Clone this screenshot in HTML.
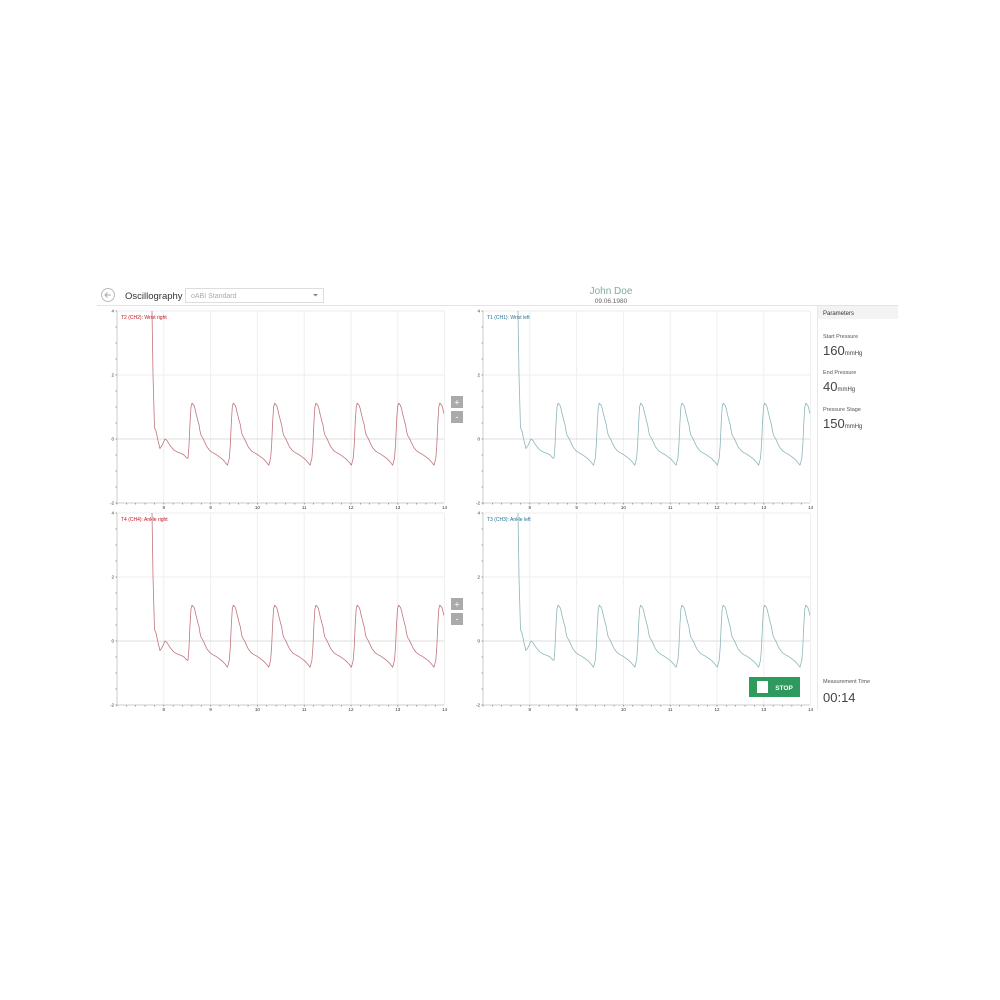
<!DOCTYPE html>
<html><head><meta charset="utf-8"><style>
body{margin:0;width:1000px;height:1000px;background:#fff;position:relative;overflow:hidden;font-family:"Liberation Sans",sans-serif}
.a{position:absolute;white-space:nowrap}
</style></head><body>
<svg class="a" style="left:0;top:0" width="1000" height="1000" id="s">
<circle cx="108" cy="295" r="6.5" fill="none" stroke="#bbb" stroke-width="1"/>
<path d="M111 295 H105 M107.5 292.5 L105 295 L107.5 297.5" fill="none" stroke="#aaa" stroke-width="1"/>
<text x="125" y="299" font-size="9.5" fill="#333">Oscillography</text>
<rect x="185.5" y="288.5" width="138" height="14" fill="#fff" stroke="#ddd"/>
<text x="191" y="298" font-size="7" fill="#aaa">oABI Standard</text>
<path d="M313 294 l2.5 2.5 l2.5 -2.5z" fill="#888"/>
<text x="611" y="294" font-size="10" fill="#7aaf96" text-anchor="middle">John Doe</text>
<text x="611" y="303" font-size="6.5" fill="#666" text-anchor="middle">09.06.1980</text>
<line x1="97" y1="305.5" x2="898" y2="305.5" stroke="#e4e4e4"/>
<line x1="817.5" y1="306" x2="817.5" y2="710" stroke="#e8e8e8"/>
<rect x="818" y="306" width="80" height="13" fill="#f3f3f3"/>
<text x="823" y="315" font-size="6" fill="#333">Parameters</text>
<text x="823" y="338" font-size="5.5" fill="#555">Start Pressure</text>
<text x="823" y="355" font-size="13" fill="#444">160<tspan font-size="6">mmHg</tspan></text>
<text x="823" y="374" font-size="5.5" fill="#555">End Pressure</text>
<text x="823" y="391" font-size="13" fill="#444">40<tspan font-size="6">mmHg</tspan></text>
<text x="823" y="411" font-size="5.5" fill="#555">Pressure Stage</text>
<text x="823" y="428" font-size="13" fill="#444">150<tspan font-size="6">mmHg</tspan></text>
<text x="823" y="683" font-size="5.5" fill="#555">Measurement Time</text>
<text x="823" y="702" font-size="13" fill="#444">00:14</text>
<rect x="451" y="396" width="12" height="12" fill="#aaa"/><text x="457" y="405.5" font-size="9" fill="#fff" text-anchor="middle">+</text>
<rect x="451" y="411" width="12" height="12" fill="#aaa"/><text x="457" y="420" font-size="9" fill="#fff" text-anchor="middle">-</text>
<rect x="451" y="598" width="12" height="12" fill="#aaa"/><text x="457" y="607.5" font-size="9" fill="#fff" text-anchor="middle">+</text>
<rect x="451" y="613" width="12" height="12" fill="#aaa"/><text x="457" y="622" font-size="9" fill="#fff" text-anchor="middle">-</text>
<g id="charts"></g>
<rect x="749" y="677" width="51" height="20" fill="#2e9a5e"/>
<rect x="757" y="681" width="11" height="12" fill="#fff"/>
<text x="784" y="690" font-size="6.5" fill="#fff" text-anchor="middle" font-weight="bold">STOP</text>
</svg>
<script>
var g=document.getElementById('charts'),h='';
function ch(ax,top,col,lab,lc){
 var px=46.8,yu=32,y0=top+128,bot=top+192,right=ax+327;
 for(var i=1;i<=7;i++){var x=ax+i*px;h+='<line x1="'+x+'" y1="'+top+'" x2="'+x+'" y2="'+bot+'" stroke="#eeeeee"/>';
  h+='<text x="'+x+'" y="'+(bot+6)+'" font-size="4.5" fill="#333" text-anchor="middle">'+(7+i)+'</text>';}
 for(var k=0;k<3;k++){var y=top+k*64;h+='<line x1="'+ax+'" y1="'+y+'" x2="'+right+'" y2="'+y+'" stroke="'+(k==2?'#ddd':'#eeeeee')+'"/>';}
 h+='<line x1="'+ax+'" y1="'+top+'" x2="'+ax+'" y2="'+bot+'" stroke="#ccc"/><line x1="'+ax+'" y1="'+bot+'" x2="'+right+'" y2="'+bot+'" stroke="#ccc"/>';
 for(var x=ax;x<=right;x+=px/5)h+='<line x1="'+x+'" y1="'+bot+'" x2="'+x+'" y2="'+(bot+1.5)+'" stroke="#666" stroke-width=".6"/>';
 for(var y=top;y<=bot;y+=16)h+='<line x1="'+(ax-1.5)+'" y1="'+y+'" x2="'+ax+'" y2="'+y+'" stroke="#666" stroke-width=".6"/>';
 ['4','2','0','-2'].forEach(function(t,k){h+='<text x="'+(ax-3)+'" y="'+(top+k*64+1.5)+'" font-size="4.5" fill="#333" text-anchor="end">'+t+'</text>';});
 h+='<text x="'+(ax+4)+'" y="'+(top+8)+'" font-size="5" fill="'+lc+'">'+lab+'</text>';
 var bt=[[-4,-0.6],[-3,-0.2],[-2,0.5],[-1,1.0],[0,1.12],[2,1.05],[3,0.95],[4,0.8],[5,0.68],[6,0.55],[7,0.45],[8,0.25],[9,0.12],[10,0.07],[11,0.02],[13,-0.12],[15,-0.25],[18,-0.37],[21,-0.43],[24,-0.48],[27,-0.55],[30,-0.62],[33,-0.72],[35.5,-0.82],[37.3,-0.6]];
 var pts=[[35,4.1],[36,2],[37.5,0.35],[39,0.25],[41,-0.05],[43,-0.3],[45,-0.2],[48,0],[50,-0.05],[53,-0.2],[57,-0.35],[61,-0.42],[64,-0.45],[67,-0.5],[70,-0.6],[71,-0.6]];
 var P=41.3;
 for(var n=0;n<7;n++){var c=75+n*P;bt.forEach(function(b){var x=c+b[0];if(x>71&&x<=327)pts.push([x,b[1]]);});}
 var d='';pts.forEach(function(p,i){var X=ax+p[0],Y=Math.max(top,y0-p[1]*yu);d+=(i?'L':'M')+X.toFixed(1)+' '+Y.toFixed(1);});
 h+='<path d="'+d+'" fill="none" stroke="'+col+'" stroke-width="0.8" stroke-linejoin="round"/>';
}
ch(117,311,'#c0757c','T2 (CH2): Wrist right','#c0141e');
ch(483,311,'#8db6ba','T1 (CH1): Wrist left','#1f6f8f');
ch(117,513,'#c0757c','T4 (CH4): Ankle right','#c0141e');
ch(483,513,'#8db6ba','T3 (CH3): Ankle left','#1f6f8f');
g.innerHTML=h;
</script>
</body></html>
